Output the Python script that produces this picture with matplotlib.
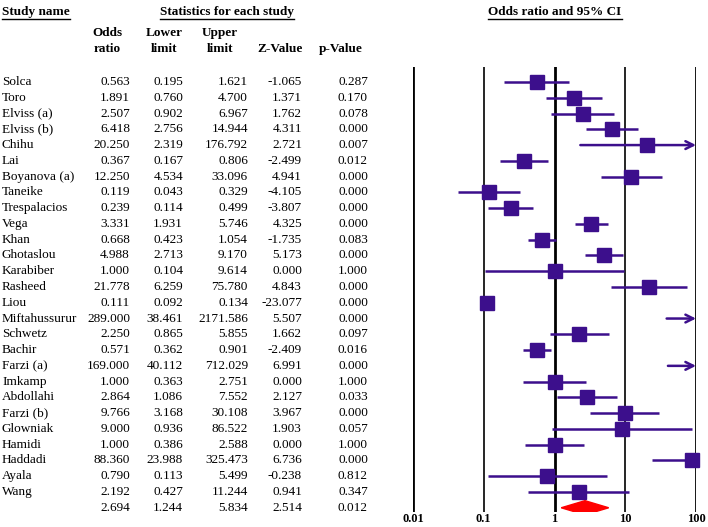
import numpy as np
import matplotlib
matplotlib.use('Agg')
import matplotlib.pyplot as plt
from matplotlib.lines import Line2D
from matplotlib.patches import Polygon
import matplotlib.transforms as mtransforms

plt.rcParams['font.family'] = ['Liberation Serif', 'DejaVu Serif']

# study data
studies = ['Solca', 'Toro', 'Elviss (a)', 'Elviss (b)', 'Chihu', 'Lai', 'Boyanova (a)',
           'Taneike', 'Trespalacios', 'Vega', 'Khan', 'Ghotaslou', 'Karabiber', 'Rasheed',
           'Liou', 'Miftahussurur', 'Schwetz', 'Bachir', 'Farzi (a)', 'Imkamp', 'Abdollahi',
           'Farzi (b)', 'Glowniak', 'Hamidi', 'Haddadi', 'Ayala', 'Wang']
odds = [0.563, 1.891, 2.507, 6.418, 20.250, 0.367, 12.250, 0.119, 0.239, 3.331, 0.668,
        4.988, 1.000, 21.778, 0.111, 289.000, 2.250, 0.571, 169.000, 1.000, 2.864, 9.766,
        9.000, 1.000, 88.360, 0.790, 2.192]
lower = [0.195, 0.760, 0.902, 2.756, 2.319, 0.167, 4.534, 0.043, 0.114, 1.931, 0.423,
         2.713, 0.104, 6.259, 0.092, 38.461, 0.865, 0.362, 40.112, 0.363, 1.086, 3.168,
         0.936, 0.386, 23.988, 0.113, 0.427]
upper = [1.621, 4.700, 6.967, 14.944, 176.792, 0.806, 33.096, 0.329, 0.499, 5.746, 1.054,
         9.170, 9.614, 75.780, 0.134, 2171.586, 5.855, 0.901, 712.029, 2.751, 7.552, 30.108,
         86.522, 2.588, 325.473, 5.499, 11.244]
zval = [-1.065, 1.371, 1.762, 4.311, 2.721, -2.499, 4.941, -4.105, -3.807, 4.325, -1.735,
        5.173, 0.000, 4.843, -23.077, 5.507, 1.662, -2.409, 6.991, 0.000, 2.127, 3.967,
        1.903, 0.000, 6.736, -0.238, 0.941]
pval = [0.287, 0.170, 0.078, 0.000, 0.007, 0.012, 0.000, 0.000, 0.000, 0.000, 0.083,
        0.000, 1.000, 0.000, 0.000, 0.000, 0.097, 0.016, 0.000, 1.000, 0.033, 0.000,
        0.057, 1.000, 0.000, 0.812, 0.347]
summary = [2.694, 1.244, 5.834, 2.514, 0.012]  # odds, lower, upper, z, p

ticks = [0.01, 0.1, 1, 10, 100]
tick_labels = ['0.01', '0.1', '1', '10', '100']

W, H = 708, 527
purple = '#3c0f8c'

fig = plt.figure(figsize=(W / 100, H / 100), dpi=100)
ax = fig.add_axes([413 / W, 1 - 512 / H, (696 - 413) / W, (512 - 67) / H])
ax.set_xscale('log')
ax.set_xlim(0.01, 100)
n = len(studies)
row_h = (492 - 82) / (n - 1)
ax.set_ylim((512 - 82) / row_h, (67 - 82) / row_h)
for s in ax.spines.values():
    s.set_visible(False)
ax.set_yticks([])
ax.set_xticks(ticks)
ax.set_xticklabels(tick_labels, fontweight='bold', fontsize=9)
ax.tick_params(axis='x', length=0, pad=1)
ax.minorticks_off()

for t in ticks:
    lw = 2.0 if t in (0.01, 1, 100) else 1.2
    ax.axvline(t, color='black', lw=lw, zorder=1)

xmin, xmax = ax.get_xlim()
for i in range(n):
    lo = max(lower[i], xmin)
    hi = min(upper[i], xmax)
    if upper[i] > xmax and odds[i] < 60 or odds[i] > xmax:
        ax.annotate('', xy=(xmax, i), xytext=(lo, i),
                    arrowprops=dict(arrowstyle='->', color=purple, lw=1.8,
                                    mutation_scale=14, shrinkA=0, shrinkB=0), zorder=3)
    else:
        ax.plot([lo, hi], [i, i], color=purple, lw=1.8, zorder=3, solid_capstyle='butt')
    if odds[i] <= xmax:
        ax.plot(odds[i], i, marker='s', ms=10, color=purple, zorder=4, clip_on=False)

# summary diamond
ys = n
d = Polygon([[summary[1], ys], [summary[0], ys - 0.45], [summary[2], ys], [summary[0], ys + 0.45]],
            closed=True, color='#ff0000', zorder=4)
ax.add_patch(d)

# table text: x in pixels (figure), y in rows
trans = mtransforms.blended_transform_factory(
    mtransforms.Affine2D().scale(1 / W, 1) + fig.transFigure, ax.transData)
fs = 9.5
col_right = [130, 183, 248, 302, 368]
for i in range(n):
    ax.text(2, i, studies[i], transform=trans, fontsize=fs, va='center', ha='left')
    vals = [odds[i], lower[i], upper[i], zval[i], pval[i]]
    for x, v in zip(col_right, vals):
        ax.text(x, i, '%.3f' % v, transform=trans, fontsize=fs, va='center', ha='right')
for x, v in zip(col_right, summary):
    ax.text(x, n, '%.3f' % v, transform=trans, fontsize=fs, va='center', ha='right')

# headers
def ftext(x, y, s, ha='center', underline=False):
    t = fig.text(x / W, 1 - y / H, s, fontsize=fs, fontweight='bold', ha=ha, va='center')
    if underline:
        fig.canvas.draw()
        bb = t.get_window_extent()
        fig.add_artist(Line2D([bb.x0 / W, bb.x1 / W], [(bb.y0 - 1) / H, (bb.y0 - 1) / H],
                              color='black', lw=1.0, transform=fig.transFigure))
    return t

ftext(2, 12, 'Study name', ha='left', underline=True)
ftext(227, 12, 'Statistics for each study', underline=True)
ftext(555, 12, 'Odds ratio and 95% CI', underline=True)
ftext(107, 33, 'Odds')
ftext(107, 49, 'ratio')
ftext(164, 33, 'Lower')
ftext(164, 49, 'limit')
ftext(220, 33, 'Upper')
ftext(220, 49, 'limit')
ftext(280, 49, 'Z-Value')
ftext(341, 49, 'p-Value')

fig.savefig('out.png', dpi=100)
